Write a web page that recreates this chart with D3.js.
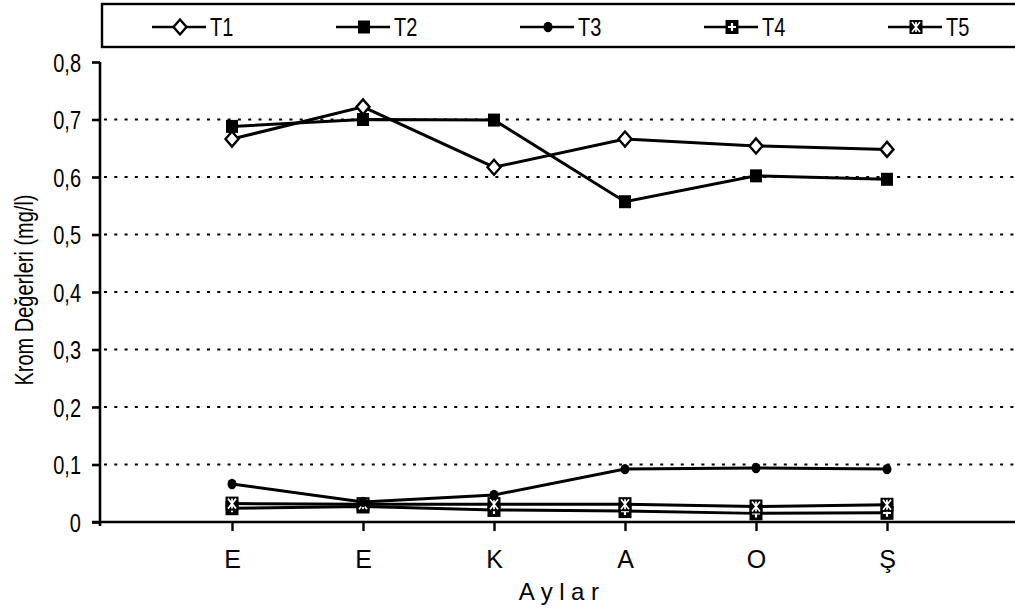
<!DOCTYPE html>
<html>
<head>
<meta charset="utf-8">
<script src="https://cdn.jsdelivr.net/npm/d3@7"></script>
<style>
  html, body { margin: 0; padding: 0; background: #fff; }
  svg { display: block; }
  text { font-family: "Liberation Sans", Arial, sans-serif; }
</style>
</head>
<body>
<svg id="chart" width="1015" height="614"></svg>
<script>
// ---- data ----
const categories = ["E", "E", "K", "A", "O", "Ş"];
const seriesNames = ["T1", "T2", "T3", "T4", "T5"];
const T1 = [0.666, 0.722, 0.617, 0.666, 0.654, 0.648];
const T2 = [0.688, 0.700, 0.699, 0.557, 0.602, 0.596];
const T3 = [0.066, 0.035, 0.047, 0.092, 0.094, 0.092];
const T4 = [0.024, 0.027, 0.021, 0.019, 0.015, 0.016];
const T5 = [0.032, 0.031, 0.031, 0.031, 0.027, 0.030];
const yTicks = [0, 0.1, 0.2, 0.3, 0.4, 0.5, 0.6, 0.7, 0.8];
const yTitle = "Krom Değerleri (mg/l)";
const xTitle = "Aylar";

const svg = d3.select("#chart");
const NARROW = 0.8;

const x = d3.scalePoint().domain(d3.range(categories.length)).range([232, 887]);
const y = d3.scaleLinear().domain([0, 0.8]).range([522, 62]);
const x0 = 100, xEnd = 1015;

// gridlines
svg.append("g").selectAll("line")
  .data(yTicks.filter(t => t > 0 && t < 0.8))
  .join("line")
  .attr("x1", x0 + 4).attr("x2", xEnd)
  .attr("y1", d => y(d)).attr("y2", d => y(d))
  .attr("stroke", "#000").attr("stroke-width", 2)
  .attr("stroke-dasharray", "3,7.3");

// y axis
const yAxis = d3.axisLeft(y).tickValues(yTicks).tickSize(8).tickPadding(10)
  .tickFormat(d => d === 0 ? "0" : d3.format(".1f")(d).replace(".", ","));
const gy = svg.append("g").attr("transform", `translate(${x0},0)`).call(yAxis);
gy.select(".domain").attr("stroke-width", 2.6).attr("d", `M0,${y(0.8)}V${y(0)+4}`);
gy.selectAll(".tick line").attr("stroke-width", 2.6);
gy.selectAll(".tick text").attr("font-size", 25).attr("fill", "#000")
  .attr("x", 0).attr("dy", "0.36em")
  .attr("transform", `translate(-19,0) scale(${NARROW},1)`);

// x axis
const xAxis = d3.axisBottom(x).tickSize(9).tickPadding(19).tickFormat(i => categories[i]);
const gx = svg.append("g").attr("transform", `translate(0,${y(0)})`).call(xAxis);
gx.select(".domain").attr("stroke-width", 2.6).attr("d", `M${x0 - 8},0H${xEnd}`);
gx.selectAll(".tick line").attr("stroke-width", 2.4);
gx.selectAll(".tick text").attr("font-size", 25).attr("fill", "#000");

// axis titles
svg.append("text").attr("x", 562).attr("y", 600)
  .attr("text-anchor", "middle").attr("font-size", 24).attr("letter-spacing", 6.5)
  .text(xTitle);
svg.append("text")
  .attr("transform", `translate(33,290) rotate(-90) scale(${NARROW},1)`)
  .attr("text-anchor", "middle").attr("font-size", 25).text(yTitle);

// ---- markers ----
function drawMarker(g, name, cx, cy) {
  if (name === "T1") {
    g.append("path").attr("d", `M${cx},${cy-7.5}L${cx+6.5},${cy}L${cx},${cy+7.5}L${cx-6.5},${cy}Z`)
      .attr("fill", "#fff").attr("stroke", "#000").attr("stroke-width", 2.4);
  } else if (name === "T2") {
    g.append("rect").attr("x", cx - 6).attr("y", cy - 6.5).attr("width", 12).attr("height", 13).attr("fill", "#000");
  } else if (name === "T3") {
    g.append("ellipse").attr("cx", cx).attr("cy", cy).attr("rx", 4.5).attr("ry", 5.2).attr("fill", "#000");
  } else if (name === "T4") {
    g.append("rect").attr("x", cx - 6.5).attr("y", cy - 7).attr("width", 13).attr("height", 14).attr("fill", "#000");
    g.append("path").attr("d", `M${cx-4},${cy}H${cx+4}M${cx},${cy-4}V${cy+4}`)
      .attr("stroke", "#fff").attr("stroke-width", 2.2);
  } else if (name === "T5") {
    g.append("rect").attr("x", cx - 6.5).attr("y", cy - 7).attr("width", 13).attr("height", 14).attr("fill", "#000");
    g.append("path").attr("d", `M${cx-4},${cy-5}L${cx+4},${cy+5}M${cx+4},${cy-5}L${cx-4},${cy+5}M${cx},${cy-5}V${cy+5}`)
      .attr("stroke", "#fff").attr("stroke-width", 1.7);
  }
}

const seriesData = { T1, T2, T3, T4, T5 };
const line = d3.line().x((d, i) => x(i)).y(d => y(d));
const drawOrder = ["T4", "T5", "T3", "T2", "T1"];
drawOrder.forEach(name => {
  const g = svg.append("g");
  g.append("path").datum(seriesData[name]).attr("d", line)
    .attr("fill", "none").attr("stroke", "#000").attr("stroke-width", 3);
  seriesData[name].forEach((v, i) => drawMarker(g, name, x(i), y(v)));
});

// ---- legend ----
const leg = svg.append("g");
leg.append("rect").attr("x", 102).attr("y", 4).attr("width", 940).attr("height", 43)
  .attr("fill", "none").attr("stroke", "#000").attr("stroke-width", 2.4);
const legX = d3.scalePoint().domain(seriesNames).range([180, 916]);
seriesNames.forEach(name => {
  const cx = legX(name), cy = 27;
  const g = leg.append("g");
  g.append("line").attr("x1", cx - 28).attr("x2", cx + 26).attr("y1", cy).attr("y2", cy)
    .attr("stroke", "#000").attr("stroke-width", 2.6);
  drawMarker(g, name, cx, cy);
  g.append("text").attr("font-size", 25)
    .attr("transform", `translate(${cx + 30},${cy + 9}) scale(${NARROW},1)`)
    .text(name);
});
</script>
</body>
</html>
